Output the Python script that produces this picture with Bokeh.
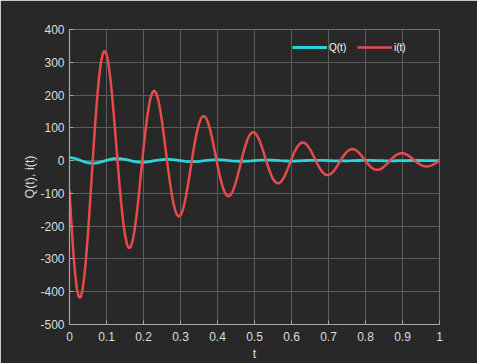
from bokeh.plotting import figure
from bokeh.models import Legend, LegendItem, Range1d, FixedTicker
from bokeh.embed import file_html
from bokeh.resources import INLINE

# ---- data ----
# i(t) sampled every 0.005 s from t = 0 to t = 1
i_vals = [
    -90.0, -189.6, -275.8, -344.1, -391.5, -416.2, -417.5, -396.1, -354.1, -294.2,
    -220.4, -137.1, -49.1, 38.6, 121.4, 194.8, 255.3, 300.0, 326.8, 335.1,
    325.0, 297.7, 255.1, 200.2, 136.2, 66.9, -3.7, -71.8, -133.7, -186.4,
    -227.2, -254.3, -266.8, -264.5, -247.9, -218.4, -178.0, -129.4, -75.4, -19.0,
    36.5, 88.2, 133.4, 169.9, 196.0, 210.6, 213.3, 204.4, 184.7, 155.7,
    119.2, 77.4, 32.9, -12.0, -54.8, -93.1, -125.2, -149.4, -164.7, -170.6,
    -167.1, -154.6, -134.2, -107.2, -75.3, -40.3, -4.3, 30.7, 62.9, 90.6,
    112.5, 127.7, 135.3, 135.4, 128.2, 114.2, 94.6, 70.4, 43.3, 14.7,
    -13.8, -40.5, -64.2, -83.6, -97.8, -106.4, -108.8, -105.3, -96.2, -82.1,
    -64.1, -43.3, -20.7, 2.2, 24.2, 44.2, 61.2, 74.2, 82.9, 86.7,
    85.7, 80.2, 70.4, 57.2, 41.3, 23.7, 5.4, -12.6, -29.3, -43.9,
    -55.6, -63.9, -68.5, -69.2, -66.2, -59.6, -50.1, -38.1, -24.5, -10.0,
    4.5, 18.4, 30.7, 41.1, 48.8, 53.6, 55.4, 54.1, 50.0, 43.2,
    34.4, 24.0, 12.6, 0.9, -10.4, -20.8, -29.8, -36.8, -41.6, -44.0,
    -43.9, -41.5, -36.8, -30.4, -22.5, -13.7, -4.4, 4.9, 13.5, 21.2,
    27.4, 31.9, 34.6, 35.3, 34.1, 31.1, 26.4, 20.6, 13.7, 6.4,
    -1.0, -8.2, -14.6, -20.1, -24.3, -27.0, -28.2, -27.8, -25.9, -22.7,
    -18.4, -13.2, -7.4, -1.5, 4.3, 9.7, 14.4, 18.2, 20.8, 22.3,
    22.5, 21.4, 19.2, 16.1, 12.2, 7.8, 3.1, -1.7, -6.1, -10.1,
    -13.5, -15.9, -17.5, -18.0, -17.5, -16.1, -13.9, -11.0, -7.6, -3.9,
    -0.1,
]
t_i = [k / 200 for k in range(len(i_vals))]

# Q(t) sampled every 0.01 s from t = 0 to t = 1
q_vals = [
    9.75, 7.87, 4.47, 0.34, -3.58, -6.50, -7.87, -7.49, -5.56, -2.59,
    0.73, 3.68, 5.67, 6.33, 5.63, 3.78, 1.26, -1.36, -3.52, -4.81,
    -5.00, -4.13, -2.45, -0.36, 1.67, 3.21, 3.98, 3.86, 2.94, 1.47,
    -0.23, -1.76, -2.82, -3.23, -2.92, -2.03, -0.76, 0.58, 1.71, 2.41,
    2.56, 2.16, 1.33, 0.28, -0.77, -1.58, -2.01, -1.99, -1.55, -0.82,
    0.04, 0.84, 1.40, 1.64, 1.51, 1.08, 0.45, -0.24, -0.83, -1.21,
    -1.31, -1.13, -0.72, -0.19, 0.35, 0.78, 1.01, 1.02, 0.82, 0.45,
    0.02, -0.39, -0.70, -0.83, -0.78, -0.57, -0.26, 0.09, 0.40, 0.60,
    0.67, 0.59, 0.39, 0.12, -0.15, -0.38, -0.51, -0.52, -0.43, -0.25,
    -0.03, 0.18, 0.34, 0.42, 0.40, 0.30, 0.15, -0.03, -0.19, -0.30,
    -0.34,
]
t_q = [k / 100 for k in range(len(q_vals))]

x_ticks = [0, 0.1, 0.2, 0.3, 0.4, 0.5, 0.6, 0.7, 0.8, 0.9, 1]
x_labels = ["0", "0.1", "0.2", "0.3", "0.4", "0.5", "0.6", "0.7", "0.8", "0.9", "1"]
y_ticks = [-500, -400, -300, -200, -100, 0, 100, 200, 300, 400]
y_labels = ["-500", "-400", "-300", "-200", "-100", "0", "100", "200", "300", "400"]

series_names = ["Q(t)", "i(t)"]
series_colors = ["#2ad4d8", "#e54b4b"]

BG = "#282828"
TXT = "#dcdcdc"
FONT = "Liberation Sans"

p = figure(width=477, height=363, output_backend="svg", toolbar_location=None,
           x_range=Range1d(0, 1), y_range=Range1d(-500, 400),
           min_border_left=69, min_border_right=38, min_border_top=29,
           min_border_bottom=38,
           background_fill_color=BG, border_fill_color=BG,
           outline_line_color="#707070", outline_line_width=1)
p.title.visible = False

rq = p.line(t_q, q_vals, line_color=series_colors[0], line_width=2.8)
ri = p.line(t_i, i_vals, line_color=series_colors[1], line_width=2.5)

for ax, ticks, labels in ((p.xaxis[0], x_ticks, x_labels), (p.yaxis[0], y_ticks, y_labels)):
    ax.ticker = FixedTicker(ticks=ticks)
    ax.major_label_overrides = {t: l for t, l in zip(ticks, labels)}
    ax.axis_line_color = "#a8a8a8"
    ax.axis_line_width = 1.2
    ax.major_tick_line_color = "#a8a8a8"
    ax.major_tick_in = 4
    ax.major_tick_out = 0
    ax.minor_tick_line_color = None
    ax.major_label_text_color = TXT
    ax.major_label_text_font = FONT
    ax.major_label_text_font_size = "12px"
    ax.axis_label_text_color = TXT
    ax.axis_label_text_font = FONT
    ax.axis_label_text_font_size = "12.5px"
    ax.axis_label_text_font_style = "normal"

p.xaxis.axis_label = "t"
p.yaxis.axis_label = "Q(t), i(t)"
p.xaxis.major_label_standoff = 7
p.xaxis.axis_label_standoff = 3
p.yaxis.major_label_standoff = 5
p.yaxis.axis_label_standoff = 0

p.xgrid.ticker = FixedTicker(ticks=x_ticks)
p.ygrid.ticker = FixedTicker(ticks=y_ticks)
p.grid.grid_line_color = "#5c5c5c"
p.grid.grid_line_width = 1

legend = Legend(items=[LegendItem(label=series_names[0], renderers=[rq]),
                       LegendItem(label=series_names[1], renderers=[ri])],
                orientation="horizontal", location=(219, 267),
                background_fill_alpha=0, border_line_alpha=0,
                label_text_color="#ffffff", label_text_font=FONT,
                label_text_font_size="10px", glyph_width=35, glyph_height=12,
                label_standoff=2, spacing=8, padding=4, margin=0)
p.add_layout(legend)

open("out.html", "w").write(file_html(p, INLINE))
